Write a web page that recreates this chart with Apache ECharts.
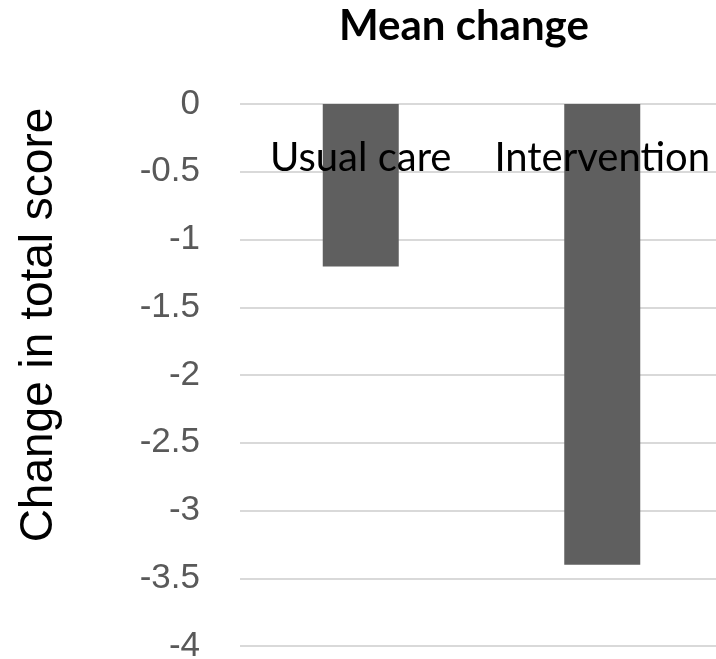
<!DOCTYPE html>
<html>
<head>
<meta charset="utf-8">
<script src="https://cdn.jsdelivr.net/npm/echarts@6/dist/echarts.min.js"></script>
<style>
  html, body { margin: 0; padding: 0; background: #fff; }
  #chart { width: 716px; height: 659px; }
</style>
</head>
<body>
<div id="chart"></div>
<script>
// Groups and their mean change in total score
const categories = ['Usual care', 'Intervention'];
const meanChange = [-1.2, -3.4];

// Value axis range and step
const yMin = -4;
const yMax = 0;
const yStep = 0.5;

const chart = echarts.init(document.getElementById('chart'), null, { renderer: 'canvas' });

chart.setOption({
  animation: false,
  backgroundColor: '#ffffff',
  title: {
    text: 'Mean change',
    left: 334,
    top: 0,
    textStyle: {
      fontFamily: 'Lato',
      fontWeight: 'bold',
      fontSize: 42,
      color: '#000000'
    }
  },
  grid: {
    left: 240,
    right: -7,
    top: 104,
    bottom: 13,
    containLabel: false,
    outerBoundsMode: 'none'
  },
  xAxis: {
    type: 'category',
    position: 'top',
    data: categories,
    z: 10,
    axisLine: { show: false },
    axisTick: { show: false },
    axisLabel: {
      inside: true,
      interval: 0,
      hideOverlap: false,
      margin: 34,
      fontFamily: 'Lato',
      fontSize: 40,
      color: '#000000'
    },
    splitLine: { show: false }
  },
  yAxis: {
    type: 'value',
    min: yMin,
    max: yMax,
    interval: yStep,
    name: 'Change in total score',
    nameLocation: 'middle',
    nameGap: 178,
    nameTextStyle: {
      fontFamily: 'Liberation Sans',
      fontSize: 46,
      color: '#000000',
      padding: [0, 0, 0, 100]
    },
    axisLine: { show: false },
    axisTick: { show: false },
    axisLabel: {
      margin: 40,
      fontFamily: 'Liberation Sans',
      fontSize: 35,
      color: '#595959'
    },
    splitLine: { lineStyle: { color: '#d9d9d9', width: 2 } }
  },
  series: [{
    type: 'bar',
    data: meanChange,
    barWidth: 76,
    z: 2,
    itemStyle: { color: '#5f5f5f' }
  }]
});
</script>
</body>
</html>
